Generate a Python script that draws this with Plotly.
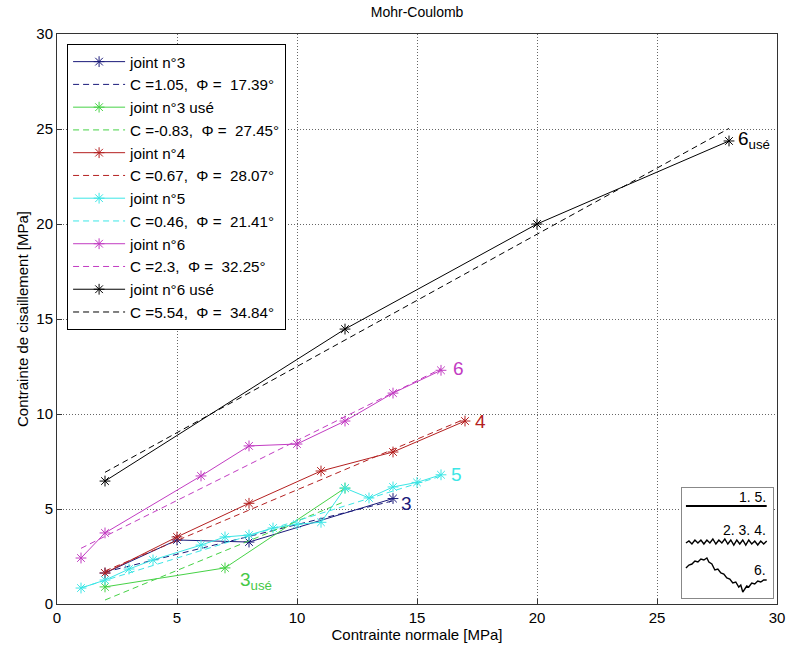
import plotly.graph_objects as go

# ---- data ----
x_j3 = [2, 5, 8, 14]
y_j3 = [1.63, 3.37, 3.26, 5.55]
fit_j3_x = [2, 14]
fit_j3_y = [1.68, 5.43]

x_j3u = [2, 7, 12]
y_j3u = [0.9, 1.9, 6.1]
fit_j3u_x = [2, 12]
fit_j3u_y = [0.21, 5.40]

x_j4 = [2, 5, 8, 11, 14, 17]
y_j4 = [1.63, 3.53, 5.3, 7.0, 8.0, 9.63]
fit_j4_x = [2, 17]
fit_j4_y = [1.74, 9.74]

x_j5 = [1, 2, 3, 4, 6, 7, 8, 9, 10, 11, 12, 13, 14, 15, 16]
y_j5 = [0.84, 1.26, 1.84, 2.32, 3.1, 3.53, 3.63, 4.0, 4.2, 4.3, 6.1, 5.58, 6.16, 6.4, 6.8]
fit_j5_x = [1, 16]
fit_j5_y = [0.85, 6.73]

x_j6 = [1, 2, 6, 8, 10, 12, 14, 16]
y_j6 = [2.42, 3.74, 6.74, 8.32, 8.42, 9.63, 11.1, 12.3]
fit_j6_x = [1, 16]
fit_j6_y = [2.93, 12.38]

x_j6u = [2, 12, 20, 28]
y_j6u = [6.47, 14.47, 20.0, 24.37]
fit_j6u_x = [2, 28]
fit_j6u_y = [6.93, 25.03]

names = ["joint n°3", "joint n°3 usé", "joint n°4", "joint n°5", "joint n°6", "joint n°6 usé"]
fit_names = [
    "C =1.05, \u00a0\u03a6 = \u00a017.39°",
    "C =-0.83, \u00a0\u03a6 = \u00a027.45°",
    "C =0.67, \u00a0\u03a6 = \u00a028.07°",
    "C =0.46, \u00a0\u03a6 = \u00a021.41°",
    "C =2.3, \u00a0\u03a6 = \u00a032.25°",
    "C =5.54, \u00a0\u03a6 = \u00a034.84°",
]
colors = ["#1a1a7a", "#46d246", "#b42020", "#3ce6e6", "#c23cc2", "#000000"]

series = [
    (x_j3, y_j3, fit_j3_x, fit_j3_y),
    (x_j3u, y_j3u, fit_j3u_x, fit_j3u_y),
    (x_j4, y_j4, fit_j4_x, fit_j4_y),
    (x_j5, y_j5, fit_j5_x, fit_j5_y),
    (x_j6, y_j6, fit_j6_x, fit_j6_y),
    (x_j6u, y_j6u, fit_j6u_x, fit_j6u_y),
]

# curve labels
lab_text = ["3", "3<sub>usé</sub>", "4", "5", "6", "6<sub>usé</sub>"]
lab_x = [14.25, 7.55, 17.35, 16.35, 16.4, 28.3]
lab_y = [5.3, 1.2, 9.6, 6.8, 12.4, 24.4]
lab_col = ["#1a1a7a", "#46c846", "#b42020", "#3ce6e6", "#c23cc2", "#000000"]

# inset illustration (joint roughness sketches), inset-pixel coordinates
ins_flat_x = [4, 85]
ins_flat_y = [92, 92]
ins_wavy_x = [4, 7, 10, 13, 16, 19, 22, 25, 28, 31, 34, 37, 40, 43, 46, 49, 52, 55, 58, 61, 64, 67, 70, 73, 76, 79, 82, 85]
ins_wavy_y = [55, 57, 54, 58, 55, 58, 54, 58, 55, 59, 54, 58, 55, 59, 54, 58, 53, 58, 54, 58, 53, 58, 54, 57, 53, 57, 54, 57]
ins_rough_x = [4, 7, 10, 13, 16, 19, 22, 25, 27, 30, 33, 36, 39, 42, 45, 48, 51, 54, 57, 59, 61, 63, 65, 67, 70, 73, 76, 79, 82, 85]
ins_rough_y = [30, 33, 34, 37, 36, 39, 38, 40, 36, 34, 28, 29, 25, 24, 20, 19, 15, 16, 11, 13, 6, 9, 12, 11, 15, 14, 17, 16, 18, 18]
ins_text = ["1. 5.", "2. 3. 4.", "6."]
ins_text_y = [101, 68, 28]

FONT = "Liberation Sans, Arial, sans-serif"

fig = go.Figure()
for i, (xs, ys, fx, fy) in enumerate(series):
    c = colors[i]
    fig.add_trace(go.Scatter(
        x=xs, y=ys, mode="lines+markers", name=names[i],
        line=dict(color=c, width=1),
        marker=dict(symbol="asterisk-open", size=9, color=c, line=dict(color=c, width=1)),
    ))
    fig.add_trace(go.Scatter(
        x=fx, y=fy, mode="lines", name=fit_names[i],
        line=dict(color=c, width=1, dash="6px,4px"),
    ))

# inset traces
fig.add_trace(go.Scatter(x=ins_flat_x, y=ins_flat_y, mode="lines", xaxis="x2", yaxis="y2",
                         line=dict(color="black", width=2.2), showlegend=False, hoverinfo="skip"))
fig.add_trace(go.Scatter(x=ins_wavy_x, y=ins_wavy_y, mode="lines", xaxis="x2", yaxis="y2",
                         line=dict(color="black", width=1.4), showlegend=False, hoverinfo="skip"))
fig.add_trace(go.Scatter(x=ins_rough_x, y=ins_rough_y, mode="lines", xaxis="x2", yaxis="y2",
                         line=dict(color="black", width=1.4), showlegend=False, hoverinfo="skip"))

annotations = []
for t, x, y, c in zip(lab_text, lab_x, lab_y, lab_col):
    annotations.append(dict(x=x, y=y, xref="x", yref="y", text=t, showarrow=False,
                            xanchor="left", yanchor="middle",
                            font=dict(family=FONT, size=19, color=c)))
for t, y in zip(ins_text, ins_text_y):
    annotations.append(dict(x=86, y=y, xref="x2", yref="y2", text=t, showarrow=False,
                            xanchor="right", yanchor="middle",
                            font=dict(family=FONT, size=14, color="black")))

axis_common = dict(
    range=[0, 30], dtick=5, showgrid=True, gridcolor="#666666", griddash="1px,2px", gridwidth=1,
    showline=True, mirror=True, linecolor="#333333", linewidth=1,
    ticks="inside", ticklen=5, tickcolor="#333333", zeroline=False, automargin=False,
    tickfont=dict(family=FONT, size=15, color="black"),
)

fig.update_layout(
    width=787, height=648,
    margin=dict(l=57, r=10, t=34, b=44),
    paper_bgcolor="white", plot_bgcolor="white",
    title=dict(text="Mohr-Coulomb", x=0.53, xanchor="center", y=0.982, yanchor="middle",
               yref="container", font=dict(family=FONT, size=14, color="black")),
    xaxis=dict(axis_common, title=dict(text="Contrainte normale [MPa]", standoff=2,
                                       font=dict(family=FONT, size=15, color="black"))),
    yaxis=dict(axis_common, title=dict(text="Contrainte de cisaillement [MPa]", standoff=4,
                                       font=dict(family=FONT, size=15, color="black"))),
    xaxis2=dict(domain=[0.868, 0.994], anchor="y2", range=[0, 91], showgrid=False, zeroline=False,
                showticklabels=False, ticks="", showline=True, mirror=True, linecolor="#888888"),
    yaxis2=dict(domain=[0.0105, 0.2035], anchor="x2", range=[0, 110], showgrid=False, zeroline=False,
                showticklabels=False, ticks="", showline=True, mirror=True, linecolor="#888888"),
    legend=dict(x=0.014, y=0.982, xanchor="left", yanchor="top",
                bgcolor="white", bordercolor="black", borderwidth=1,
                font=dict(family=FONT, size=15.2, color="black"), tracegroupgap=0,
                itemwidth=52),
    annotations=annotations,
    showlegend=True,
)

fig.write_html("out.html", config={"displayModeBar": False},
               post_script="document.body.style.margin='0';document.body.style.padding='0';")
